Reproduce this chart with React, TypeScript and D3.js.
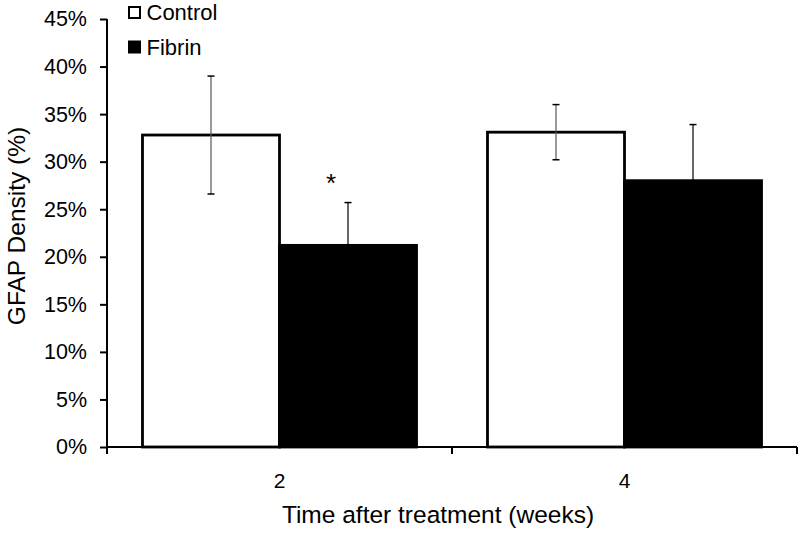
import React, { useEffect, useRef } from 'react';
import * as d3 from 'd3';

// chart values
const weeks = ['2', '4'];
const groups = ['Control', 'Fibrin'];
const controlMean = [32.8, 33.1];
const controlErr = [6.2, 2.9];
const fibrinMean = [21.2, 28.0];
const fibrinErr = [4.5, 5.9];
const yTicks = [0, 5, 10, 15, 20, 25, 30, 35, 40, 45];
const significant = ['2'];

const App: React.FC = () => {
  const chartRef = useRef<SVGSVGElement | null>(null);

  useEffect(() => {
    if (!chartRef.current) return;
    const font = '"Liberation Sans", Arial, sans-serif';

    const margin = { top: 19, right: 3, bottom: 87, left: 107 };
    const width = 800 - margin.left - margin.right;
    const height = 534 - margin.top - margin.bottom;

    const root = d3.select(chartRef.current);
    root.selectAll('*').remove();
    const svg = root.append('g').attr('transform', `translate(${margin.left},${margin.top})`);

    const data = weeks.map((w, i) => ({
      week: w,
      values: [
        { group: 'Control', mean: controlMean[i], err: controlErr[i] },
        { group: 'Fibrin', mean: fibrinMean[i], err: fibrinErr[i] },
      ],
    }));

    const x0 = d3.scaleBand().domain(weeks).range([0, width]).paddingInner(0).paddingOuter(0);
    const x1 = d3.scaleBand().domain(groups).range([0, x0.bandwidth()]).paddingOuter(0.259).paddingInner(0);
    const y = d3.scaleLinear().domain([0, 45]).range([height, 0]);

    // bars
    const grp = svg.selectAll('.grp').data(data).enter().append('g')
      .attr('transform', (d) => `translate(${x0(d.week)},0)`);

    grp.selectAll('rect').data((d) => d.values).enter().append('rect')
      .attr('x', (d) => x1(d.group) || 0)
      .attr('y', (d) => y(d.mean))
      .attr('width', x1.bandwidth())
      .attr('height', (d) => height - y(d.mean))
      .attr('fill', (d) => (d.group === 'Control' ? '#fff' : '#000'))
      .attr('stroke', '#000')
      .attr('stroke-width', 2.8);

    // error bars
    const eb = grp.selectAll('.eb').data((d) => d.values).enter().append('g');
    const cx = (d: { group: string }) => (x1(d.group) || 0) + x1.bandwidth() / 2;
    eb.append('line')
      .attr('x1', cx).attr('x2', cx)
      .attr('y1', (d) => y(d.mean + d.err))
      .attr('y2', (d) => y(d.mean - d.err))
      .attr('stroke', (d) => (d.group === 'Control' ? '#555' : '#000'))
      .attr('stroke-width', 1.2);
    [1, -1].forEach((s) => {
      eb.append('line')
        .attr('x1', (d) => cx(d) - 3.5).attr('x2', (d) => cx(d) + 3.5)
        .attr('y1', (d) => y(d.mean + s * d.err))
        .attr('y2', (d) => y(d.mean + s * d.err))
        .attr('stroke', '#000')
        .attr('stroke-width', 1.5);
    });

    // significance marker
    data.filter((d) => significant.includes(d.week)).forEach((d) => {
      const f = d.values[1];
      svg.append('text')
        .attr('x', (x0(d.week) || 0) + cx(f) - 17)
        .attr('y', y(f.mean + f.err) - 11)
        .attr('text-anchor', 'middle')
        .style('font-family', font)
        .style('font-size', '26px')
        .text('*');
    });

    // y axis
    const yAxis = svg.append('g').call(
      d3.axisLeft(y).tickValues(yTicks).tickSize(7).tickPadding(13).tickFormat((d) => `${d}%`)
    );
    yAxis.select('.domain').attr('stroke-width', 2).attr('d', `M0,${height + 7}V0`);
    yAxis.selectAll('.tick line').attr('stroke-width', 2);
    yAxis.selectAll('text').style('font-family', font).style('font-size', '21.5px').attr('fill', '#000');

    // x axis
    const xAxis = svg.append('g').attr('transform', `translate(0,${height})`)
      .call(d3.axisBottom(x0).tickSize(0).tickPadding(26));
    xAxis.select('.domain').attr('stroke-width', 2).attr('d', `M0,0H${width}`);
    xAxis.selectAll('text').style('font-family', font).style('font-size', '21px').attr('fill', '#000');
    [0, ...weeks.map((w) => (x0(w) || 0) + x0.bandwidth())].forEach((tx) => {
      xAxis.append('line').attr('x1', tx).attr('x2', tx).attr('y1', 0).attr('y2', 7)
        .attr('stroke', '#000').attr('stroke-width', 2);
    });

    // axis titles
    svg.append('text')
      .attr('x', 438 - margin.left)
      .attr('y', height + 76)
      .attr('text-anchor', 'middle')
      .style('font-family', font).style('font-size', '24.5px')
      .text('Time after treatment (weeks)');
    svg.append('text')
      .attr('transform', `translate(${25 - margin.left},${226 - margin.top}) rotate(-90)`)
      .attr('text-anchor', 'middle')
      .style('font-family', font).style('font-size', '24.5px')
      .text('GFAP Density (%)');

    // legend
    const legend = root.append('g').attr('transform', 'translate(128,0)');
    groups.forEach((g, i) => {
      legend.append('rect')
        .attr('x', 1).attr('y', 7 + i * 34.5)
        .attr('width', 11).attr('height', 11)
        .attr('fill', g === 'Control' ? '#fff' : '#000')
        .attr('stroke', '#000').attr('stroke-width', 2);
      legend.append('text')
        .attr('x', 18.5).attr('y', 20 + i * 34.5)
        .style('font-family', font).style('font-size', '22px')
        .text(g);
    });
  }, []);

  return (
    <svg ref={chartRef} width={800} height={534}
      style={{ position: 'absolute', left: 0, top: 0, background: '#fff' }} />
  );
};

export default App;
